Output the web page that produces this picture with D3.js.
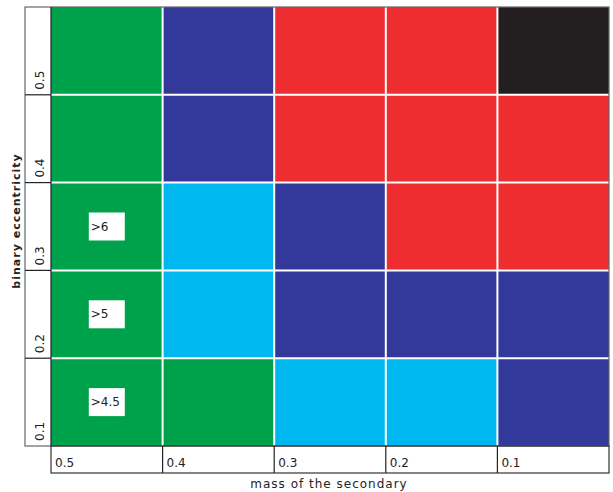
<!DOCTYPE html>
<html>
<head>
<meta charset="utf-8">
<script src="https://cdn.jsdelivr.net/npm/d3@7"></script>
<style>
  body { margin: 0; background: #fff; }
  svg { display: block; }
  text { font-family: "DejaVu Sans", sans-serif; fill: #222; }
</style>
</head>
<body>
<div id="chart"></div>
<script>
// mass of the secondary (columns, left to right)
const masses = ["0.5", "0.4", "0.3", "0.2", "0.1"];
// binary eccentricity (rows, top to bottom)
const eccentricities = ["0.5", "0.4", "0.3", "0.2", "0.1"];

// outcome class per cell, one array per eccentricity row
const rowE05 = ["g", "b", "r", "r", "k"];
const rowE04 = ["g", "b", "r", "r", "r"];
const rowE03 = ["g", "c", "b", "r", "r"];
const rowE02 = ["g", "c", "b", "b", "b"];
const rowE01 = ["g", "g", "c", "c", "b"];
const classRows = [rowE05, rowE04, rowE03, rowE02, rowE01];

// annotations inside some cells
const notes = [
    { e: "0.3", m: "0.5", text: ">6" },
    { e: "0.2", m: "0.5", text: ">5" },
    { e: "0.1", m: "0.5", text: ">4.5" },
];

const classColor = {
    g: "#00a14b", // green
    b: "#33399a", // dark blue
    c: "#00b8f0", // light blue
    r: "#ee2d30", // red
    k: "#231f20", // black
};

const width = 613, height = 492;
const plot = { left: 51, right: 609, top: 7, bottom: 446 };

const svg = d3.select("#chart")
    .append("svg")
    .attr("width", width)
    .attr("height", height);

const x = d3.scaleBand().domain(masses).range([plot.left, plot.right]);
const y = d3.scaleBand().domain(eccentricities).range([plot.top, plot.bottom]);

// flatten into cells
const cells = [];
classRows.forEach((row, i) => {
    row.forEach((c, j) => cells.push({ e: eccentricities[i], m: masses[j], c: c }));
});

// cells
svg.append("g")
    .selectAll("rect")
    .data(cells)
    .enter()
    .append("rect")
    .attr("x", (d) => x(d.m))
    .attr("y", (d) => y(d.e))
    .attr("width", x.bandwidth())
    .attr("height", y.bandwidth())
    .attr("fill", (d) => classColor[d.c]);

// white grid lines between cells
const grid = svg.append("g").attr("stroke", "#fff").attr("stroke-width", 2);
masses.slice(1).forEach((m) => {
    grid.append("line")
        .attr("x1", x(m)).attr("x2", x(m))
        .attr("y1", plot.top).attr("y2", plot.bottom);
});
eccentricities.slice(1).forEach((e) => {
    grid.append("line")
        .attr("x1", plot.left).attr("x2", plot.right)
        .attr("y1", y(e)).attr("y2", y(e));
});

// annotation boxes
const note = svg.append("g")
    .selectAll("g")
    .data(notes)
    .enter()
    .append("g")
    .attr("transform", (d) => `translate(${x(d.m) + x.bandwidth() / 2},${y(d.e) + y.bandwidth() / 2})`);
note.append("rect")
    .attr("x", -18).attr("y", -14)
    .attr("width", 36).attr("height", 28)
    .attr("fill", "#fff");
note.append("text")
    .attr("x", -16).attr("y", 4)
    .style("font-size", "12px")
    .text((d) => d.text);

// frame
const frame = svg.append("g").attr("fill", "none").attr("stroke", "#666").attr("stroke-width", 1.2);
const yBox = { left: 25, right: plot.left };
const xBox = { top: plot.bottom, bottom: 473 };
frame.append("rect")
    .attr("x", yBox.left).attr("y", plot.top)
    .attr("width", plot.right - yBox.left).attr("height", plot.bottom - plot.top);
frame.append("rect")
    .attr("x", plot.left).attr("y", xBox.top)
    .attr("width", plot.right - plot.left).attr("height", xBox.bottom - xBox.top)
    .attr("stroke", "#333");
frame.append("line")
    .attr("x1", plot.left).attr("x2", plot.left)
    .attr("y1", plot.top).attr("y2", plot.bottom)
    .attr("stroke", "#222");

// y axis separators and labels
eccentricities.slice(1).forEach((e) => {
    frame.append("line")
        .attr("x1", yBox.left).attr("x2", yBox.right)
        .attr("y1", y(e)).attr("y2", y(e))
        .attr("stroke", "#222");
});
svg.append("g")
    .selectAll("text")
    .data(eccentricities)
    .enter()
    .append("text")
    .attr("transform", (d) => `translate(44,${y(d) + y.bandwidth() - 5}) rotate(-90)`)
    .style("font-size", "12px")
    .text((d) => d);

// x axis separators and labels
masses.slice(1).forEach((m) => {
    frame.append("line")
        .attr("x1", x(m)).attr("x2", x(m))
        .attr("y1", xBox.top).attr("y2", xBox.bottom)
        .attr("stroke", "#222");
});
svg.append("g")
    .selectAll("text")
    .data(masses)
    .enter()
    .append("text")
    .attr("x", (d) => x(d) + 4)
    .attr("y", 467)
    .style("font-size", "12px")
    .text((d) => d);

// axis titles
svg.append("text")
    .attr("x", 329).attr("y", 488)
    .attr("text-anchor", "middle")
    .style("font-size", "12px")
    .style("letter-spacing", "1px")
    .text("mass of the secondary");

svg.append("text")
    .attr("transform", "translate(20,221) rotate(-90)")
    .attr("text-anchor", "middle")
    .style("font-size", "11px")
    .style("font-weight", "bold")
    .style("letter-spacing", "1px")
    .text("binary eccentricity");
</script>
</body>
</html>
